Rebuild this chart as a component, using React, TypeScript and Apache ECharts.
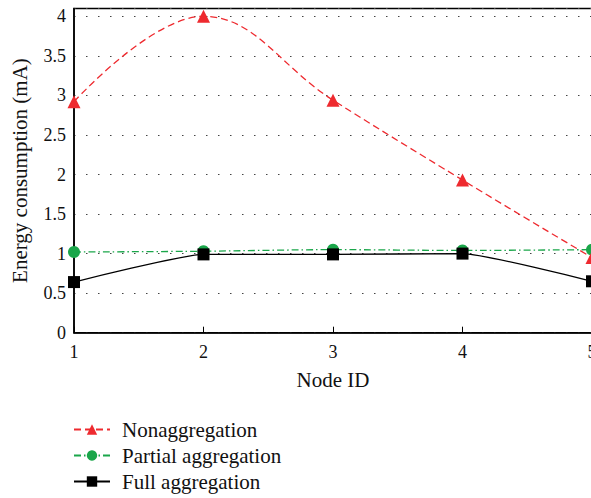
import React, { useEffect, useRef } from "react";
import * as echarts from "echarts";

const nodeIds = [1, 2, 3, 4, 5];
const nonAgg = [2.92, 4.0, 2.94, 1.93, 0.95];
const partialAgg = [1.02, 1.03, 1.05, 1.04, 1.05];
const fullAgg = [0.64, 0.99, 0.99, 1.0, 0.65];
const seriesNames = ["Nonaggregation", "Partial aggregation", "Full aggregation"];

const FONT = "Liberation Serif";

export default function App() {
  const ref = useRef<HTMLDivElement>(null);
  useEffect(() => {
    if (!ref.current) return;
    const chart = echarts.init(ref.current, undefined, { renderer: "svg" });
    const pairs = (vals: number[]) => nodeIds.map((x, i) => [x, vals[i]]);
    chart.setOption({
      animation: false,
      backgroundColor: "#fff",
      textStyle: { fontFamily: FONT },
      grid: {
        left: 74,
        right: 8,
        top: 8.4,
        bottom: 165.3,
        show: true,
        borderColor: "#000",
        borderWidth: 1.5,
        containLabel: false,
        outerBoundsMode: "none",
      },
      legend: {
        orient: "vertical",
        left: 73,
        top: 419,
        itemWidth: 36,
        itemHeight: 13,
        itemGap: 5,
        padding: 0,
        data: seriesNames,
        textStyle: {
          fontFamily: FONT,
          fontSize: 21,
          lineHeight: 21,
          color: "#111",
          padding: [0, 0, 0, 7],
        },
      },
      xAxis: {
        type: "value",
        min: 1,
        max: 5,
        interval: 1,
        name: "Node ID",
        nameLocation: "middle",
        nameGap: 37,
        nameTextStyle: { fontFamily: FONT, fontSize: 21, color: "#111" },
        axisLine: { lineStyle: { color: "#000", width: 1.5 } },
        axisTick: { inside: true, length: 6, lineStyle: { color: "#000" } },
        axisLabel: { fontFamily: FONT, fontSize: 18, color: "#111", margin: 10 },
        splitLine: { show: false },
      },
      yAxis: {
        type: "value",
        min: 0,
        max: 4.1,
        interval: 0.5,
        name: "Energy consumption (mA)",
        nameLocation: "middle",
        nameGap: 44,
        nameTextStyle: { fontFamily: FONT, fontSize: 21, color: "#111" },
        axisLine: { show: true, lineStyle: { color: "#000", width: 1.5 } },
        axisTick: { show: false },
        axisLabel: {
          fontFamily: FONT,
          fontSize: 18,
          color: "#111",
          margin: 8,
          formatter: (v: number) =>
            Math.abs(v * 2 - Math.round(v * 2)) < 1e-6 ? String(v) : "",
        },
        splitLine: {
          show: true,
          lineStyle: { color: "#444", width: 1.2, type: [1.5, 10.5] },
        },
      },
      series: [
        {
          name: seriesNames[0],
          type: "line",
          data: pairs(nonAgg),
          smooth: 0.4,
          symbol: "triangle",
          symbolSize: 13,
          itemStyle: { color: "#ee2a2f" },
          lineStyle: { color: "#ee2a2f", width: 1.3, type: [7, 4] },
          z: 3,
        },
        {
          name: seriesNames[1],
          type: "line",
          data: pairs(partialAgg),
          smooth: 0.3,
          symbol: "circle",
          symbolSize: 12,
          itemStyle: { color: "#1aa64a" },
          lineStyle: { color: "#1aa64a", width: 1.3, type: [7, 3, 1.5, 3] },
          z: 2,
        },
        {
          name: seriesNames[2],
          type: "line",
          data: pairs(fullAgg),
          smooth: 0.15,
          symbol: "rect",
          symbolSize: 12,
          itemStyle: { color: "#000" },
          lineStyle: { color: "#000", width: 1.3 },
          z: 4,
        },
      ],
    });
    return () => chart.dispose();
  }, []);
  return (
    <div
      ref={ref}
      style={{ position: "fixed", left: 0, top: 0, width: 600, height: 498 }}
    />
  );
}
